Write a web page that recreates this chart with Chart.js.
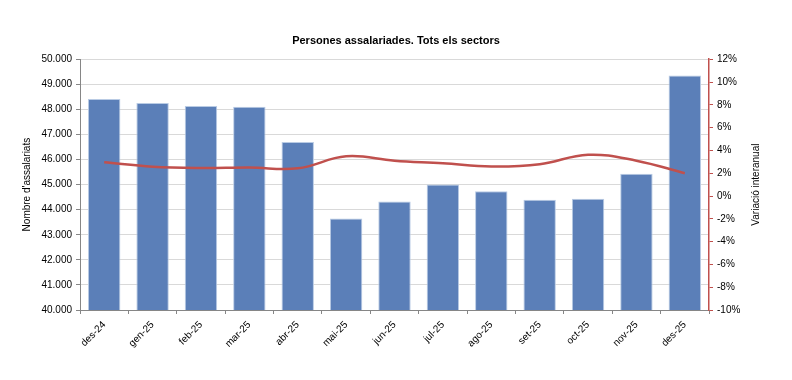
<!DOCTYPE html>
<html>
<head>
<meta charset="utf-8">
<script src="https://cdn.jsdelivr.net/npm/chart.js@4.4.1/dist/chart.umd.min.js"></script>
<style>
  html, body { margin: 0; padding: 0; background: #fff; }
  #wrap { width: 792px; height: 380px; }
</style>
</head>
<body>
<div id="wrap"><canvas id="chart" width="792" height="380"></canvas></div>
<script>
const months = ["des-24", "gen-25", "feb-25", "mar-25", "abr-25", "mai-25", "jun-25",
  "jul-25", "ago-25", "set-25", "oct-25", "nov-25", "des-25"];
const employees = [48410, 48250, 48130, 48100, 46700, 43650, 44330,
  45000, 44730, 44400, 44440, 45430, 49350];
const yoyChange = [2.95, 2.57, 2.46, 2.5, 2.43, 3.48, 3.1,
  2.87, 2.58, 2.78, 3.62, 3.1, 2.0];

const leftMin = 40000, leftMax = 50000, leftStep = 1000;
const rightMin = -10, rightMax = 12, rightStep = 2;
const rightTitle = "Variació interanual";

const font = "'Liberation Sans', Arial, sans-serif";

function thousands(v) {
  return String(v).replace(/\B(?=(\d{3})+(?!\d))/g, ".");
}

// right axis title reads bottom-to-top like the Excel original
const rightTitlePlugin = {
  id: "rightTitle",
  afterDraw(chart) {
    const { ctx, chartArea } = chart;
    ctx.save();
    ctx.translate(756, (chartArea.top + chartArea.bottom) / 2);
    ctx.rotate(-Math.PI / 2);
    ctx.fillStyle = "#000";
    ctx.font = "10px " + font;
    ctx.textAlign = "center";
    ctx.textBaseline = "middle";
    ctx.fillText(rightTitle, 0, 0);
    ctx.restore();
  }
};

new Chart(document.getElementById("chart"), {
  data: {
    labels: months,
    datasets: [
      {
        type: "line",
        label: rightTitle,
        data: yoyChange,
        yAxisID: "yRight",
        borderColor: "#c0504d",
        borderWidth: 2.5,
        pointRadius: 0,
        tension: 0.4,
        fill: false,
        order: 0
      },
      {
        type: "bar",
        label: "Nombre d'assalariats",
        data: employees,
        yAxisID: "yLeft",
        backgroundColor: "#5b7fb8",
        borderColor: "#b9cbe4",
        borderWidth: 1,
        categoryPercentage: 0.67,
        barPercentage: 1,
        order: 1
      }
    ]
  },
  plugins: [rightTitlePlugin],
  options: {
    responsive: false,
    animation: false,
    layout: { padding: 0 },
    plugins: {
      legend: { display: false },
      tooltip: { enabled: false },
      title: {
        display: true,
        text: "Persones assalariades. Tots els sectors",
        color: "#000",
        font: { family: font, size: 11, weight: "bold", lineHeight: 1.2 },
        padding: { top: 34, bottom: 12 }
      }
    },
    scales: {
      x: {
        offset: true,
        grid: {
          offset: true,
          drawOnChartArea: false,
          drawTicks: true,
          tickLength: 4,
          tickColor: "#868686"
        },
        border: { color: "#868686", width: 1 },
        ticks: {
          color: "#000",
          font: { family: font, size: 10 },
          minRotation: 45,
          maxRotation: 45,
          padding: 5
        },
        afterFit: (s) => { s.height = 70; }
      },
      yLeft: {
        position: "left",
        min: leftMin,
        max: leftMax,
        grid: {
          color: "#d9d9d9",
          tickColor: "#868686",
          tickLength: 4
        },
        border: { color: "#868686", width: 1 },
        ticks: {
          stepSize: leftStep,
          color: "#000",
          font: { family: font, size: 10 },
          padding: 4,
          callback: (v) => thousands(v)
        },
        title: {
          display: true,
          text: "Nombre d'assalariats",
          color: "#000",
          font: { family: font, size: 10, lineHeight: 1.2 },
          padding: { top: 21, bottom: 0 }
        },
        afterFit: (s) => { s.width = 80; }
      },
      yRight: {
        position: "right",
        min: rightMin,
        max: rightMax,
        grid: {
          drawOnChartArea: false,
          tickColor: "#c0504d",
          tickLength: 4
        },
        border: { color: "#c0504d", width: 1.5 },
        ticks: {
          stepSize: rightStep,
          color: "#000",
          font: { family: font, size: 10 },
          padding: 4,
          callback: (v) => v + "%"
        },
        afterFit: (s) => { s.width = 83; }
      }
    }
  }
});
</script>
</body>
</html>
